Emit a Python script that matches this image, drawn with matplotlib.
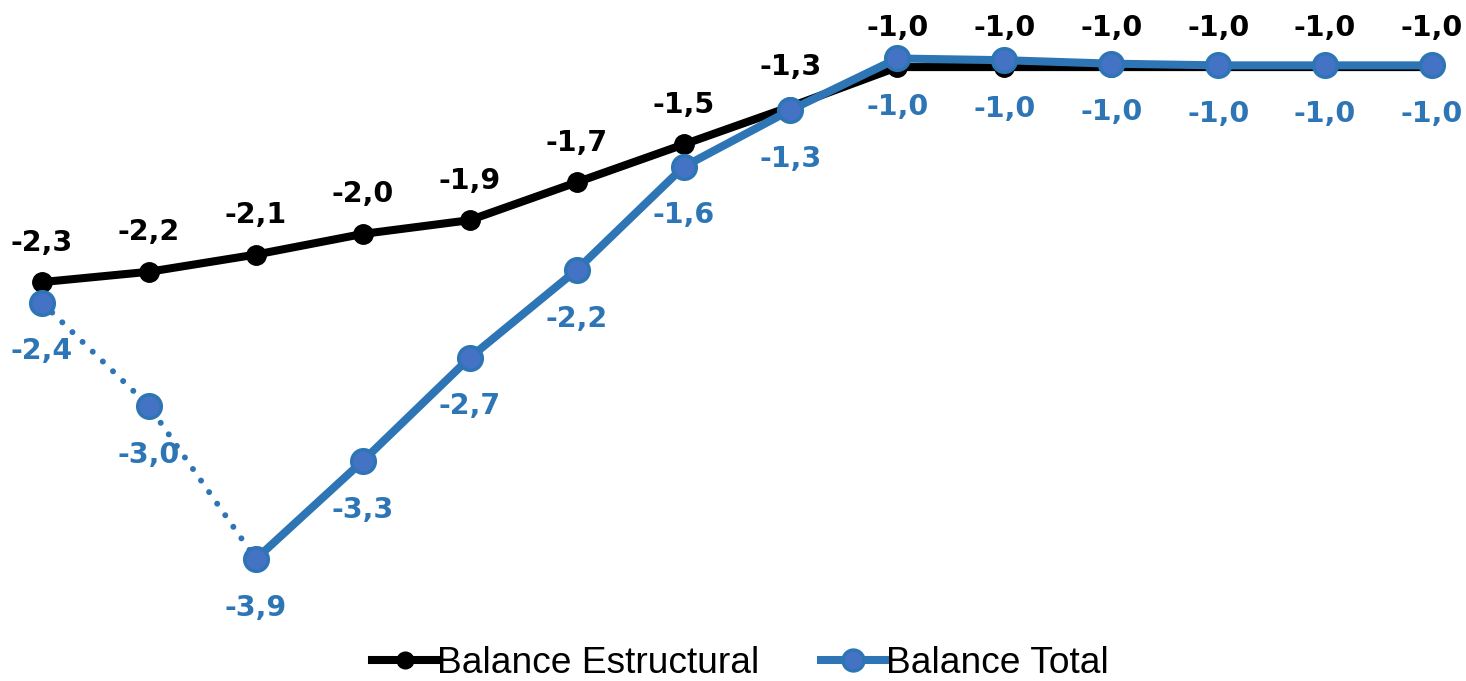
import matplotlib.pyplot as plt
from matplotlib.lines import Line2D

# Data (14 periods, no axis labels shown)
periods = list(range(14))
balance_estructural = [-2.28, -2.22, -2.12, -2.00, -1.92, -1.70, -1.48, -1.26,
                       -1.03, -1.03, -1.03, -1.03, -1.03, -1.03]
balance_total = [-2.40, -3.00, -3.89, -3.32, -2.72, -2.21, -1.61, -1.28,
                 -0.98, -0.99, -1.01, -1.02, -1.02, -1.02]
dotted_until = 2  # blue series is dotted up to this index

black = '#000000'
blue_line = '#2E75B6'
blue_fill = '#4472C4'
label_font = ['DejaVu Sans']


def fmt(v):
    return f'{v:.1f}'.replace('.', ',')


fig = plt.figure(figsize=(14.66, 6.81), dpi=100)
ax = fig.add_axes([0, 0, 1, 1])
ax.set_xlim(-0.3928, 13.318)
ax.set_ylim(-4.599, -0.64)
ax.axis('off')

# Balance Estructural
ax.plot(periods, balance_estructural, color=black, lw=5.8, marker='o',
        markersize=14, markerfacecolor=black, markeredgecolor=black, zorder=2)

# Balance Total: dotted first part, solid rest
ax.plot(periods[:dotted_until + 1], balance_total[:dotted_until + 1],
        color=blue_line, lw=4.3, linestyle=(0, (0.01, 2.35)),
        dash_capstyle='round', zorder=3)
ax.plot(periods[dotted_until:], balance_total[dotted_until:],
        color=blue_line, lw=5.8, solid_capstyle='round', zorder=3)
ax.plot(periods, balance_total, linestyle='none', marker='o', markersize=17,
        markerfacecolor=blue_fill, markeredgecolor=blue_line,
        markeredgewidth=2.5, zorder=4)

# Data labels
for x, v in zip(periods, balance_estructural):
    ax.annotate(fmt(v), (x, v), xytext=(0, 28.5), textcoords='offset points',
                ha='center', va='center', fontsize=20.5, fontweight='bold',
                color=black, family=label_font)
for x, v in zip(periods, balance_total):
    ax.annotate(fmt(v), (x, v), xytext=(0, -35), textcoords='offset points',
                ha='center', va='center', fontsize=20.5, fontweight='bold',
                color=blue_line, family=label_font)

handles = [
    Line2D([], [], color=black, lw=5.8, marker='o', markersize=12,
           markerfacecolor=black, markeredgecolor=black),
    Line2D([], [], color=blue_line, lw=5.8, marker='o', markersize=15,
           markerfacecolor=blue_fill, markeredgecolor=blue_line,
           markeredgewidth=2.5),
]
fig.legend(handles, ['Balance Estructural', 'Balance Total'],
           loc='center', bbox_to_anchor=(0.505, 0.026), ncol=2, frameon=False,
           prop={'family': 'Liberation Sans', 'size': 26.7},
           handlelength=1.75, handletextpad=0.0, columnspacing=1.65)

fig.savefig('out.png', dpi=100)
